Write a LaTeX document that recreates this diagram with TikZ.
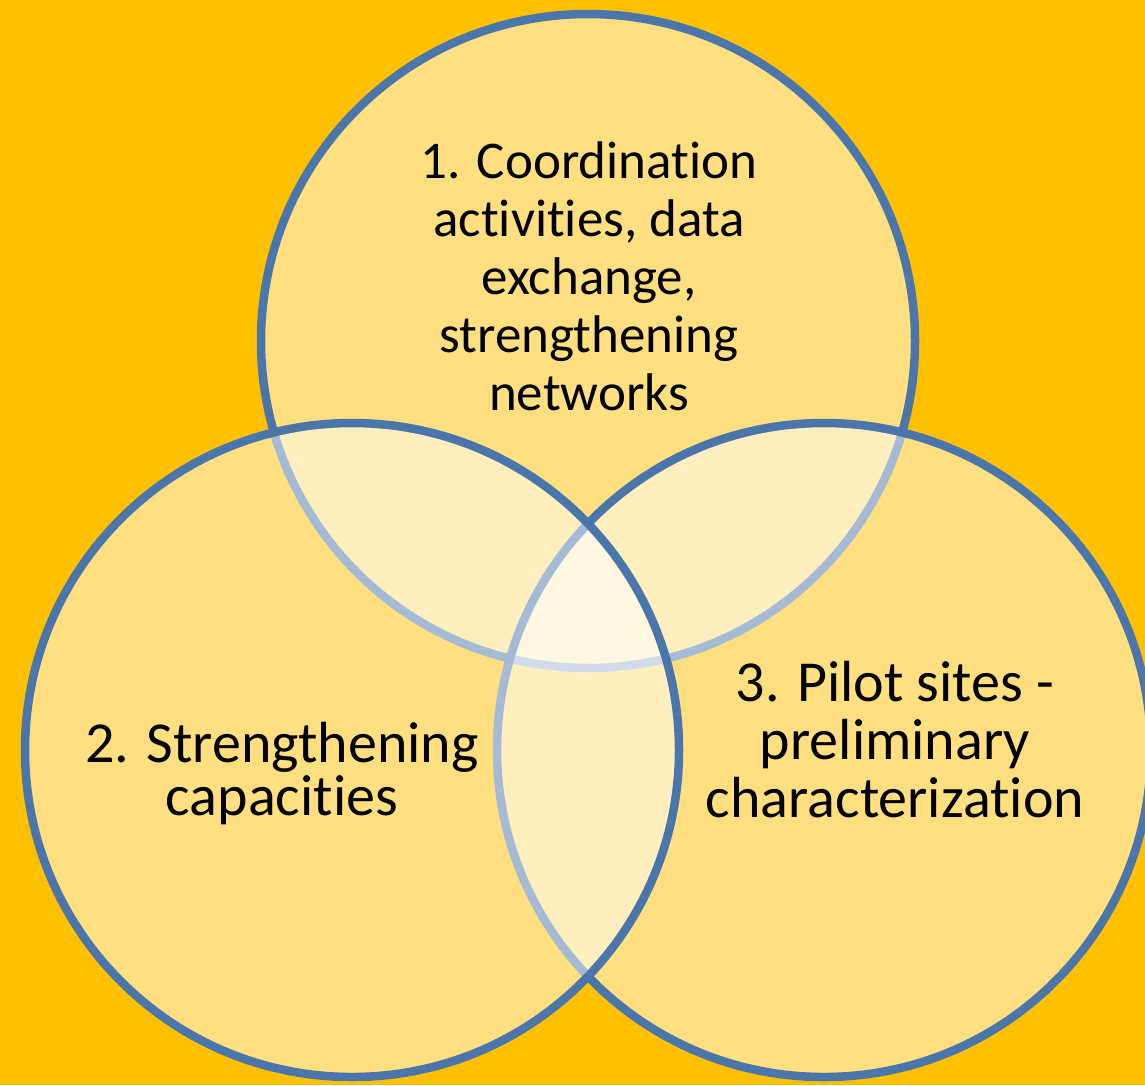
\documentclass[tikz,border=0pt]{standalone}
\usepackage{fontspec}
\setmainfont[Ligatures=NoCommon]{Carlito}
\definecolor{bgorange}{HTML}{FFC000}
\definecolor{ringblue}{HTML}{4A76AC}
\begin{document}
\begin{tikzpicture}[x=1pt, y=-1pt,
    ring/.style = {circle, draw=ringblue, line width=8.5pt, fill=white, fill opacity=0.5,
                   minimum size=654pt, inner sep=0pt},
    venntext/.style = {align=center, text=black, inner sep=0pt, font=\fontsize{53}{58}\selectfont}]
  \fill[bgorange] (0,0) rectangle (1145,1085);
  \useasboundingbox (0,0) rectangle (1145,1085);
  % circles: top, right, left
  \node[ring] (c1) at (588,341) {};
  \node[ring] (c3) at (824,750) {};
  \node[ring] (c2) at (352,750) {};
  % texts
  \node[venntext] (t1) at (589,276) {1. Coordination\\activities, data\\exchange,\\strengthening\\networks};
  \node[venntext, font=\fontsize{58}{53}\selectfont] (t2) at (282,774) {2. Strengthening\\capacities};
  \node[venntext, font=\fontsize{58}{58}\selectfont] (t3) at (895,740) {3. Pilot sites -\\preliminary\\characterization};
\end{tikzpicture}
\end{document}
